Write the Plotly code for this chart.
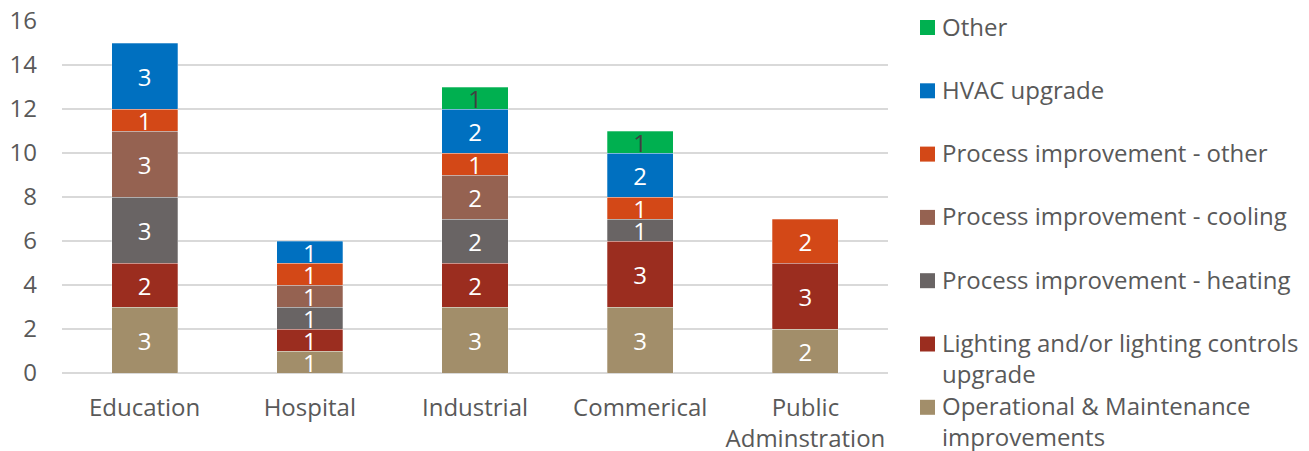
import plotly.graph_objects as go

# Categories and counts per measure type (stacked bottom to top)
sectors = ["Education", "Hospital", "Industrial", "Commerical", "Public<br>Adminstration"]
om_improvements = [3, 1, 3, 3, 2]
lighting = [2, 1, 2, 3, 3]
heating = [3, 1, 2, 1, None]
cooling = [3, 1, 2, None, None]
process_other = [1, 1, 1, 1, 2]
hvac = [3, 1, 2, 2, None]
other = [None, None, 1, 1, None]

series = [
    ("Operational & Maintenance<br>improvements", om_improvements, "#a28e6a", "white"),
    ("Lighting and/or lighting controls<br>upgrade", lighting, "#9b2d1f", "white"),
    ("Process improvement - heating", heating, "#696464", "white"),
    ("Process improvement - cooling", cooling, "#956251", "white"),
    ("Process improvement - other", process_other, "#d34817", "white"),
    ("HVAC upgrade", hvac, "#0070c0", "white"),
    ("Other", other, "#00b050", "#404040"),
]

FONT = "Open Sans"
TEXT_GREY = "#595959"
FS = 24

fig = go.Figure()
for name, vals, color, tcol in series:
    fig.add_trace(go.Bar(
        x=sectors, y=vals, name=name,
        marker=dict(color=color, line=dict(color="rgba(255,255,255,0.35)", width=0.8)),
        text=[str(v) if v else "" for v in vals],
        textposition="inside", insidetextanchor="middle", textangle=0,
        textfont=dict(family=FONT, size=FS, color=tcol),
        showlegend=False,
    ))

# Legend drawn as square swatches with labels, top entry first
PL, PT, PW, PH = 62, 21, 826, 352
legend_rows = list(reversed(series))
y0_px, step_px = 27.5, 63.3
shapes, annotations = [], []
for i, (name, vals, color, _) in enumerate(legend_rows):
    yc = y0_px + i * step_px
    shapes.append(dict(type="rect", xref="paper", yref="paper",
                       x0=(920 - PL) / PW, x1=(935 - PL) / PW,
                       y0=(PT + PH - (yc + 7.5)) / PH, y1=(PT + PH - (yc - 7.5)) / PH,
                       fillcolor=color, line=dict(width=0)))
    annotations.append(dict(xref="paper", yref="paper",
                            x=(940 - PL) / PW, y=(PT + PH - (yc - 20)) / PH,
                            xanchor="left", yanchor="top", align="left",
                            text=name, showarrow=False,
                            font=dict(family=FONT, size=FS, color=TEXT_GREY)))

fig.update_layout(
    barmode="stack",
    bargap=0.6,
    width=1309, height=451,
    margin=dict(l=PL, r=1309 - PL - PW, t=PT, b=451 - PT - PH, autoexpand=False),
    plot_bgcolor="white", paper_bgcolor="white",
    font=dict(family=FONT, size=FS, color=TEXT_GREY),
    uniformtext=dict(minsize=FS, mode="show"),
    shapes=shapes,
    annotations=annotations,
    xaxis=dict(showline=False, ticks="", ticklabelstandoff=18,
               tickfont=dict(size=FS, color=TEXT_GREY)),
    yaxis=dict(range=[0, 16], dtick=2, showgrid=True, gridcolor="#d9d9d9", gridwidth=1.5,
               zeroline=True, zerolinecolor="#d9d9d9", zerolinewidth=1.5,
               ticks="", ticklabelstandoff=24,
               tickfont=dict(size=FS, color=TEXT_GREY)),
)

fig.write_html("out.html")
